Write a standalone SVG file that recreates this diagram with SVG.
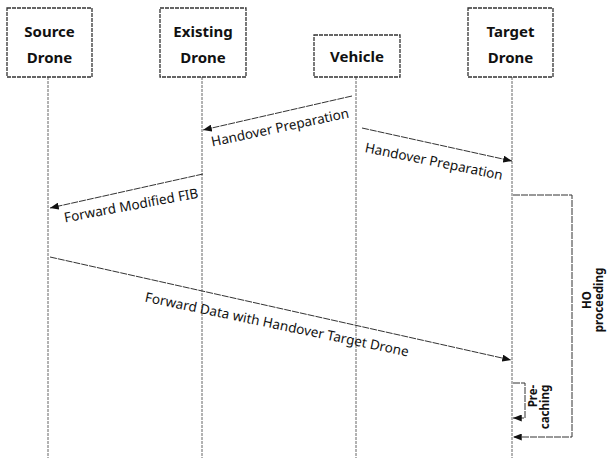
<svg xmlns="http://www.w3.org/2000/svg" width="608" height="462" viewBox="0 0 608 462">
<style>
.box{fill:#fff;stroke:#333;stroke-width:1.3;stroke-dasharray:4,1}
.life{stroke:#666;stroke-width:1;stroke-dasharray:3,1;fill:none}
.msg{stroke:#333;stroke-width:1;stroke-dasharray:7,1;fill:none}
.hd{font-family:"Noto Sans","Open Sans",sans-serif;font-weight:bold;font-size:15px;fill:#111;text-anchor:middle}
.lb{font-family:"Noto Sans","Open Sans",sans-serif;font-size:13.5px;fill:#111;text-anchor:middle}
.rl{font-family:"Noto Sans","Open Sans",sans-serif;font-weight:bold;font-size:11.5px;fill:#111;text-anchor:middle}
</style>
<defs>
<marker id="ah" viewBox="0 0 10 8" refX="10" refY="4" markerWidth="9" markerHeight="7" markerUnits="userSpaceOnUse" orient="auto">
<path d="M0,0 L10,4 L0,8 z" fill="#111"/>
</marker>
</defs>
<rect width="608" height="462" fill="#fff"/>
<g id="lifelines">
<line class="life" x1="48" y1="77" x2="48" y2="458"/>
<line class="life" x1="202" y1="77" x2="202" y2="458"/>
<line class="life" x1="356" y1="77" x2="356" y2="458"/>
<line class="life" x1="512" y1="77" x2="512" y2="458"/>
</g>
<g id="source">
<rect class="box" x="7" y="8" width="85" height="69"/>
<text class="hd" x="49.5" y="37">Source</text>
<text class="hd" x="49.5" y="63">Drone</text>
</g>
<g id="existing">
<rect class="box" x="160" y="8" width="86" height="69"/>
<text class="hd" x="203" y="37">Existing</text>
<text class="hd" x="203" y="63">Drone</text>
</g>
<g id="vehicle">
<rect class="box" x="314" y="35" width="86" height="42"/>
<text class="hd" x="357" y="62">Vehicle</text>
</g>
<g id="target">
<rect class="box" x="468" y="8" width="85" height="69"/>
<text class="hd" x="510.5" y="37">Target</text>
<text class="hd" x="510.5" y="63">Drone</text>
</g>
<g id="connectors">
<line class="msg" x1="352" y1="96" x2="203" y2="130" marker-end="url(#ah)"/>
<line class="msg" x1="362" y1="128" x2="512" y2="161" marker-end="url(#ah)"/>
<line class="msg" x1="203" y1="174" x2="50" y2="208" marker-end="url(#ah)"/>
<line class="msg" x1="50" y1="257" x2="511" y2="360" marker-end="url(#ah)"/>
<path class="msg" d="M513,195 H572 V437 H513" marker-end="url(#ah)"/>
<path class="msg" d="M513,383 H525 V418 H513" marker-end="url(#ah)"/>
</g>
<g id="labels">
<text class="lb" transform="translate(281,132) rotate(-12)">Handover Preparation</text>
<text class="lb" transform="translate(433,166) rotate(11.5)">Handover Preparation</text>
<text class="lb" transform="translate(132,210) rotate(-10.5)">Forward Modified FIB</text>
<text class="lb" transform="translate(276,329) rotate(11.8)">Forward Data with Handover Target Drone</text>
<text class="rl" transform="translate(591,300) rotate(-90)">HO</text>
<text class="rl" transform="translate(603,300) rotate(-90)">proceeding</text>
<text class="rl" transform="translate(537,396) rotate(-90)">Pre-</text>
<text class="rl" transform="translate(549,407) rotate(-90)">caching</text>
</g>
</svg>
